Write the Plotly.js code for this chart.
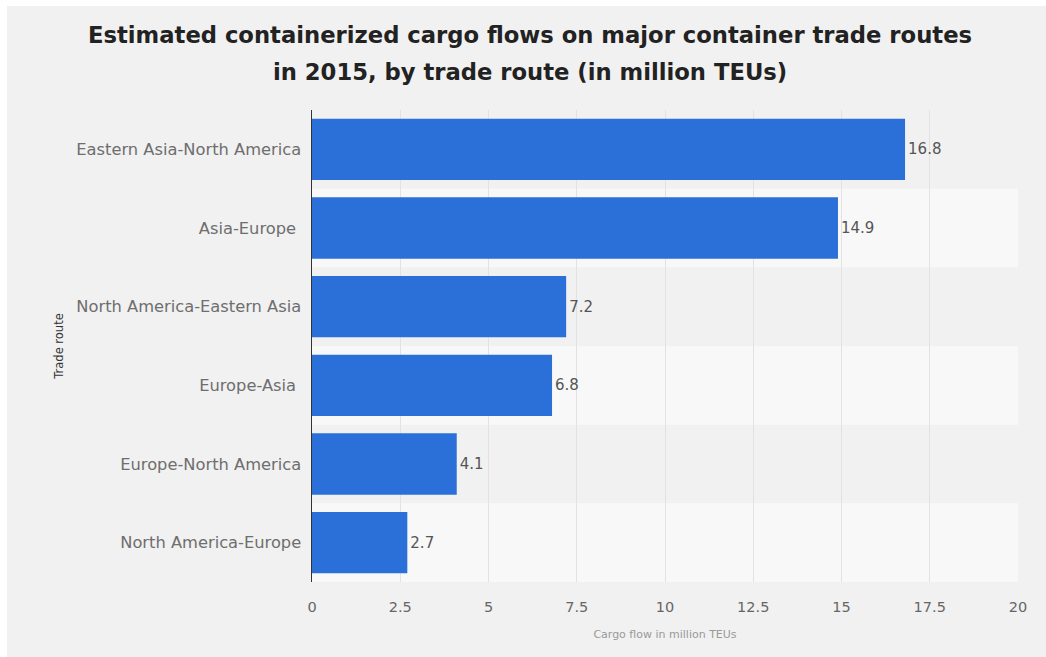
<!DOCTYPE html>
<html>
<head>
<meta charset="utf-8">
<script src="https://cdn.plot.ly/plotly-3.0.1.min.js"></script>
<style>
  html, body { margin: 0; padding: 0; background: #ffffff; }
  #chart { width: 1046px; height: 657px; }
</style>
</head>
<body>
<div id="chart"></div>
<script>
// Data (top to bottom as shown)
var routes = [
  "Eastern Asia-North America",
  "Asia-Europe ",
  "North America-Eastern Asia",
  "Europe-Asia ",
  "Europe-North America",
  "North America-Europe"
];
var flows = [16.8, 14.9, 7.2, 6.8, 4.1, 2.7];
var xTickVals = [0, 2.5, 5, 7.5, 10, 12.5, 15, 17.5, 20];
var xTickText = ["0", "2.5", "5", "7.5", "10", "12.5", "15", "17.5", "20"];
var titleLine1 = "Estimated containerized cargo flows on major container trade routes";
var titleLine2 = "in 2015, by trade route (in million TEUs)";
var xTitle = "Cargo flow in million TEUs";
var yTitle = "Trade route";

var shapes = [
  {type: "rect", xref: "paper", yref: "paper", x0: -312/706 + 7/706, x1: 1 + 28/706, y0: -75/472.4, y1: 1 + 104/472.4,
   fillcolor: "#f1f1f1", line: {width: 0}, layer: "below"}
];
for (var i = 1; i < routes.length; i += 2) {
  shapes.push({
    type: "rect", xref: "paper", yref: "y",
    x0: 0, x1: 1, y0: i - 0.5, y1: i + 0.5,
    fillcolor: "#f8f8f8", line: {width: 0}, layer: "below"
  });
}

var trace = {
  type: "bar",
  orientation: "h",
  y: routes,
  x: flows,
  marker: {color: "#2b6fd8"},
  text: flows.map(function (v) { return v.toFixed(1); }),
  textposition: "outside",
  cliponaxis: false,
  textfont: {family: "DejaVu Sans, sans-serif", size: 15, color: "#555555"},
  hoverinfo: "x+y"
};

var titleFont = {family: "DejaVu Sans, sans-serif", size: 22.7, color: "#222222", weight: "bold"};

var layout = {
  width: 1046,
  height: 657,
  paper_bgcolor: "#ffffff",
  plot_bgcolor: "rgba(0,0,0,0)",
  margin: {l: 312, r: 28, t: 110, b: 75, pad: 0},
  bargap: 0.22,
  showlegend: false,
  title: {
    text: titleLine1,
    x: 530/1046, xref: "container", xanchor: "center",
    y: 1 - 35/657, yref: "container", yanchor: "middle",
    font: titleFont
  },
  annotations: [{
    text: titleLine2,
    xref: "paper", yref: "paper",
    x: (530 - 312) / 706, y: 1 + (110 - 72) / 472.4,
    xanchor: "center", yanchor: "middle",
    showarrow: false,
    font: titleFont
  }],
  xaxis: {
    range: [0, 20],
    tickvals: xTickVals,
    ticktext: xTickText,
    showgrid: true,
    gridcolor: "#e2e2e2",
    gridwidth: 1,
    zeroline: false,
    showline: false,
    ticks: "",
    ticklabelstandoff: 14,
    tickfont: {family: "DejaVu Sans, sans-serif", size: 14.5, color: "#666666"},
    title: {text: xTitle, standoff: 16, font: {family: "DejaVu Sans, sans-serif", size: 11, color: "#999999"}},
    fixedrange: true
  },
  yaxis: {
    type: "category",
    autorange: "reversed",
    showgrid: false,
    zeroline: false,
    showline: true,
    linecolor: "#333333",
    linewidth: 1.5,
    ticks: "",
    ticklabelstandoff: 6,
    tickfont: {family: "DejaVu Sans, sans-serif", size: 16.3, color: "#6e6e6e"},
    title: {text: yTitle, standoff: 10, font: {family: "DejaVu Sans, sans-serif", size: 11.5, color: "#333333"}},
    fixedrange: true
  },
  shapes: shapes
};

Plotly.newPlot("chart", [trace], layout, {displayModeBar: false, staticPlot: true});
</script>
</body>
</html>
